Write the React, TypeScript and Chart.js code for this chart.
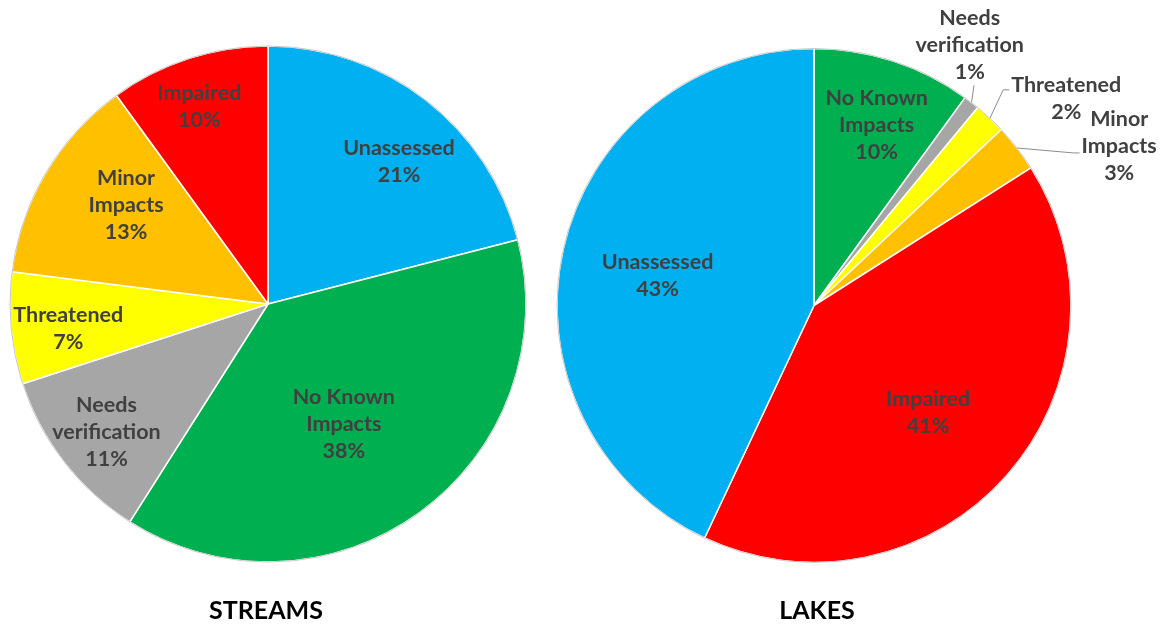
import React, { useEffect, useRef } from "react";
import { Chart, registerables } from "chart.js";

Chart.register(...registerables);

// ---------- DATA ----------
const streamsCategories = ["Unassessed", "No Known Impacts", "Needs verification", "Threatened", "Minor Impacts", "Impaired"];
const streamsValues = [21, 38, 11, 7, 13, 10];
const streamsLabelLines = [["Unassessed"], ["No Known", "Impacts"], ["Needs", "verification"], ["Threatened"], ["Minor", "Impacts"], ["Impaired"]];

const lakesCategories = ["No Known Impacts", "Needs verification", "Threatened", "Minor Impacts", "Impaired", "Unassessed"];
const lakesValues = [10, 1, 2, 3, 41, 43];
const lakesLabelLines = [["No Known", "Impacts"], ["Needs", "verification"], ["Threatened"], ["Minor", "Impacts"], ["Impaired"], ["Unassessed"]];

const chartTitles = ["STREAMS", "LAKES"];

// ---------- STYLES ----------
const COLOR = {
  "Unassessed": "#00B0F0",
  "No Known Impacts": "#00B050",
  "Needs verification": "#A6A6A6",
  "Threatened": "#FFFF00",
  "Minor Impacts": "#FFC000",
  "Impaired": "#FF0000",
};
const FONT = "Lato, 'Open Sans', sans-serif";
const LABEL_SIZE = 21.5;
const LINE_H = 27;
const TEXT_COLOR = "#404040";

// label placement: rf = fraction of radius, da = angle tweak (deg), leader for outside labels
const streamsPlacement = [
  { rf: 0.75, da: 4.8 },
  { rf: 0.55, da: 3.7 },
  { rf: 0.8, da: -0.7 },
  { rf: 0.78, da: -1.7 },
  { rf: 0.67, da: 4.2 },
  { rf: 0.81, da: -1.2 },
];
const lakesPlacement = [
  { rf: 0.745, da: 1.1 },
  { rf: 1.18, da: -6.9, leader: "bottom" },
  { rf: 1.27, da: 7.4, leader: "left", fy: -8.5 },
  { rf: 1.34, da: 10.2, leader: "left", fy: 7 },
  { rf: 0.61, da: 1.9 },
  { rf: 0.62, da: -1.6 },
];

type Placement = { rf: number; da: number; leader?: string; fy?: number };

function makeLabelPlugin(lines: string[][], placement: Placement[], title: string, titleDx: number) {
  return {
    id: "sliceLabels",
    afterDatasetsDraw(chart: any) {
      const ctx = chart.ctx;
      const meta = chart.getDatasetMeta(0);
      const data = chart.data.datasets[0].data as number[];
      const total = data.reduce((a, b) => a + b, 0);
      let cx0 = 0, cy0 = 0, R = 0;
      ctx.save();
      meta.data.forEach((arc: any, i: number) => {
        const { x, y, startAngle, endAngle, outerRadius } = arc.getProps(["x", "y", "startAngle", "endAngle", "outerRadius"], true);
        cx0 = x; cy0 = y; R = outerRadius;
        const p = placement[i];
        const mid = (startAngle + endAngle) / 2;
        const a = mid + (p.da * Math.PI) / 180;
        const lx = x + Math.cos(a) * outerRadius * p.rf;
        const ly = y + Math.sin(a) * outerRadius * p.rf;
        const txt = [...lines[i], Math.round((data[i] / total) * 100) + "%"];
        ctx.font = `bold ${LABEL_SIZE}px ${FONT}`;
        const maxW = Math.max(...txt.map((t) => ctx.measureText(t).width));
        const n = txt.length;
        if (p.leader) {
          const sx = x + Math.cos(mid) * outerRadius;
          const sy = y + Math.sin(mid) * outerRadius;
          ctx.strokeStyle = "#8C8C8C";
          ctx.lineWidth = 1;
          ctx.beginPath();
          ctx.moveTo(sx, sy);
          if (p.leader === "bottom") {
            const ey = ly + ((n - 1) * LINE_H) / 2 + 13;
            ctx.lineTo(sx + 2.5, ey);
          } else {
            const left = lx - maxW / 2 - 2;
            const ey = ly + (p.fy || 0);
            ctx.lineTo(left - 6, ey);
            ctx.lineTo(left, ey);
          }
          ctx.stroke();
        }
        ctx.fillStyle = TEXT_COLOR;
        ctx.textAlign = "center";
        ctx.textBaseline = "middle";
        txt.forEach((t, k) => {
          ctx.fillText(t, lx, ly - ((n - 1) * LINE_H) / 2 + k * LINE_H);
        });
      });
      // outer outline
      ctx.strokeStyle = "#C8C8C8";
      ctx.lineWidth = 1;
      ctx.beginPath();
      ctx.arc(cx0, cy0, R, 0, Math.PI * 2);
      ctx.stroke();
      // title
      ctx.fillStyle = "#000000";
      ctx.font = `bold 25px ${FONT}`;
      ctx.textAlign = "center";
      ctx.textBaseline = "middle";
      ctx.fillText(title, cx0 + titleDx, 611);
      ctx.restore();
    },
  };
}

function PieCanvas(props: {
  categories: string[];
  values: number[];
  lines: string[][];
  placement: Placement[];
  title: string;
  titleDx: number;
  radius: number;
  padding: { left: number; right: number; top: number; bottom: number };
  left: number;
  width: number;
}) {
  const ref = useRef<HTMLCanvasElement | null>(null);
  useEffect(() => {
    if (!ref.current) return;
    const chart = new Chart(ref.current, {
      type: "pie",
      data: {
        labels: props.categories,
        datasets: [
          {
            data: props.values,
            backgroundColor: props.categories.map((c) => (COLOR as any)[c]),
            borderColor: "#FFFFFF",
            borderWidth: 1.5,
            radius: props.radius,
          } as any,
        ],
      },
      options: {
        animation: false,
        responsive: false,
        maintainAspectRatio: false,
        layout: { padding: props.padding },
        plugins: { legend: { display: false }, tooltip: { enabled: false }, title: { display: false } },
        events: [],
      },
      plugins: [makeLabelPlugin(props.lines, props.placement, props.title, props.titleDx)],
    });
    return () => chart.destroy();
  }, []);
  return (
    <canvas
      ref={ref}
      width={props.width}
      height={627}
      style={{ position: "absolute", left: props.left, top: 0, width: props.width, height: 627, display: "block" }}
    />
  );
}

export default function App() {
  useEffect(() => {
    document.body.style.margin = "0";
  }, []);
  return (
    <div style={{ position: "absolute", left: 0, top: 0, width: 1164, height: 627, background: "#FFFFFF", overflow: "hidden" }}>
      <PieCanvas
        categories={streamsCategories}
        values={streamsValues}
        lines={streamsLabelLines}
        placement={streamsPlacement}
        title={chartTitles[0]}
        titleDx={-2}
        radius={258}
        padding={{ left: 0, right: 4, top: 0, bottom: 19 }}
        left={0}
        width={540}
      />
      <PieCanvas
        categories={lakesCategories}
        values={lakesValues}
        lines={lakesLabelLines}
        placement={lakesPlacement}
        title={chartTitles[1]}
        titleDx={3}
        radius={257}
        padding={{ left: 0, right: 76, top: 0, bottom: 16 }}
        left={540}
        width={624}
      />
    </div>
  );
}
